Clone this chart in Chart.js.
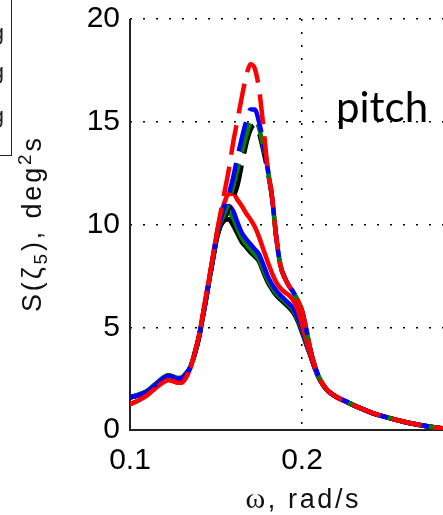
<!DOCTYPE html>
<html><head><meta charset="utf-8">
<script src="https://cdn.jsdelivr.net/npm/chart.js@4"></script>
<style>html,body{margin:0;padding:0;background:#fff;overflow:hidden}#wrap{width:443px;height:515px;position:relative}</style>
</head><body><div id="wrap"><canvas id="c" width="443" height="515"></canvas></div>
<script>
// frequency, rad/s
const omega = [0.100,0.105,0.110,0.115,0.120,0.1225,0.125,0.1275,0.130,0.1325,0.135,0.1375,0.140,0.1425,0.145,0.1475,
  0.150,0.1525,0.155,0.1575,0.160,0.1625,0.165,0.1675,0.170,0.1725,0.175,0.1775,0.180,0.1825,0.185,0.1875,0.190,0.1925,0.195,0.1975,0.200,0.2025,
  0.205,0.2075,0.210,0.2125,0.215,0.220,0.225,0.230,0.235,0.240,0.250,0.260,0.270,0.280,0.290];

// solid curves
const solidBlack = [1.58,1.70,1.88,2.22,2.57,2.64,2.58,2.50,2.52,2.72,3.02,3.65,4.45,5.55,6.75,7.95,
  9.1,9.9,10.2,10.25,9.95,9.55,9.15,8.9,8.65,8.45,8.2,7.7,7.2,6.85,6.55,6.35,6.15,5.95,5.7,5.3,4.75,4.15,
  3.6,3.0,2.5,2.15,1.9,1.6,1.4,1.2,1.02,0.85,0.6,0.38,0.22,0.1,0.05];
const solidGreen = [1.60,1.72,1.90,2.25,2.60,2.67,2.60,2.53,2.55,2.75,3.05,3.70,4.50,5.60,6.80,8.00,
  9.2,10.05,10.45,10.55,10.3,9.8,9.35,9.05,8.8,8.55,8.3,7.8,7.3,6.95,6.65,6.45,6.25,6.05,5.8,5.4,4.85,4.2,
  3.6,3.0,2.5,2.15,1.9,1.6,1.4,1.2,1.02,0.85,0.6,0.38,0.22,0.1,0.05];
const solidBlue = [1.60,1.70,1.88,2.22,2.56,2.63,2.58,2.50,2.52,2.72,3.05,3.70,4.50,5.60,6.80,8.00,
  9.25,10.2,10.75,10.9,10.65,10.1,9.6,9.3,9.05,8.8,8.55,8.05,7.5,7.1,6.8,6.55,6.35,6.15,5.9,5.5,4.95,4.25,
  3.6,3.0,2.5,2.15,1.9,1.6,1.4,1.2,1.02,0.85,0.6,0.38,0.22,0.1,0.05];
const solidRed = [1.25,1.45,1.70,2.05,2.35,2.43,2.38,2.30,2.30,2.55,3.00,3.70,4.55,5.70,6.90,8.10,
  9.35,10.4,11.1,11.5,11.5,11.2,10.9,10.55,10.25,9.9,9.4,8.8,8.2,7.65,7.2,6.9,6.7,6.55,6.3,5.85,5.15,4.35,
  3.6,3.0,2.5,2.15,1.9,1.6,1.4,1.2,1.02,0.85,0.6,0.38,0.22,0.1,0.05];

// dashed curves
const dashBlack = [1.58,1.70,1.88,2.22,2.57,2.64,2.58,2.50,2.52,2.72,3.02,3.65,4.45,5.55,6.75,7.95,
  9.1,9.9,10.3,10.8,11.3,11.9,12.9,13.9,14.6,14.85,14.45,13.6,12.6,11.35,9.4,8.0,7.4,7.0,6.7,6.3,5.8,4.9,
  3.85,3.1,2.55,2.18,1.92,1.62,1.42,1.22,1.03,0.86,0.6,0.39,0.22,0.1,0.05];
const dashGreen = [1.60,1.72,1.90,2.25,2.60,2.67,2.60,2.53,2.55,2.75,3.05,3.70,4.50,5.60,6.80,8.00,
  9.2,10.05,10.55,11.1,11.9,12.7,13.5,14.3,14.95,15.1,14.7,13.8,12.7,11.4,9.4,8.0,7.4,7.0,6.7,6.3,5.8,4.9,
  3.85,3.1,2.55,2.18,1.92,1.62,1.42,1.22,1.03,0.86,0.6,0.39,0.22,0.1,0.05];
const dashBlue = [1.60,1.70,1.88,2.22,2.56,2.63,2.58,2.50,2.52,2.72,3.05,3.70,4.50,5.60,6.80,8.00,
  9.25,10.2,10.9,11.5,12.3,13.3,14.2,15.0,15.6,15.6,15.0,14.0,12.75,11.4,9.4,8.0,7.4,7.0,6.7,6.3,5.8,4.9,
  3.85,3.1,2.55,2.18,1.92,1.62,1.42,1.22,1.03,0.86,0.6,0.39,0.22,0.1,0.05];
const dashRed = [1.25,1.45,1.70,2.05,2.35,2.43,2.38,2.30,2.30,2.55,3.00,3.70,4.55,5.70,6.90,8.10,
  9.35,10.5,11.6,12.7,14.0,15.1,16.2,17.2,17.8,17.6,16.6,14.8,12.75,11.4,9.4,8.0,7.4,7.0,6.7,6.3,5.8,4.9,
  3.85,3.1,2.55,2.18,1.92,1.62,1.42,1.22,1.03,0.86,0.6,0.39,0.22,0.1,0.05];

const yTicks = [0, 5, 10, 15, 20];
const xTicks = [0.1, 0.2];
const yTitle = [{t:'S(ζ', s:27}, {t:'5', s:19, dy:6}, {t:'), deg', s:27}, {t:'2', s:19, dy:-10}, {t:'s', s:27}];
const xTitle = [{t:'ω', s:30, f:'"Liberation Serif", "Times New Roman", serif'}, {t:', rad/s', s:27}];
const panelLabel = 'pitch';
const legendFragment = ['g', 'g', 'g'];

const SANS = '"Liberation Sans", Arial, Helvetica, sans-serif';

function pts(arr){ return arr.map((v,i)=>({x: omega[i], y: v})); }
function ds(label, arr, color, dashed, order){
  return {label, data: pts(arr), borderColor: color, backgroundColor: color, borderWidth: 4.5,
    borderDash: dashed ? [30, 12] : [], borderCapStyle: 'butt', borderJoinStyle: 'round',
    pointRadius: 0, cubicInterpolationMode: 'monotone', fill: false, order};
}

function runWidth(ctx, runs, sp){
  let w = 0, n = 0;
  for (const r of runs){ ctx.font = r.s + 'px ' + (r.f || SANS); for (const ch of r.t){ w += ctx.measureText(ch).width; n++; } }
  return w + sp * (n - 1);
}
function drawRuns(ctx, runs, x, y, sp){
  let cx = x;
  for (const r of runs){
    ctx.font = r.s + 'px ' + (r.f || SANS);
    for (const ch of r.t){ ctx.fillText(ch, cx, y + (r.dy || 0)); cx += ctx.measureText(ch).width + sp; }
  }
}
function countChars(runs){ return runs.reduce((a,r)=>a + [...r.t].length, 0); }

const axesPlugin = {
  id: 'axesLines',
  beforeDatasetsDraw(chart){
    const {ctx, chartArea: a} = chart;
    ctx.save();
    ctx.strokeStyle = '#222';
    ctx.lineWidth = 2;
    ctx.setLineDash([]);
    ctx.beginPath();
    ctx.moveTo(a.left, a.top);
    ctx.lineTo(a.left, a.bottom);
    ctx.lineTo(a.right, a.bottom);
    ctx.stroke();
    ctx.restore();
  }
};

const textPlugin = {
  id: 'texts',
  afterDraw(chart){
    const ctx = chart.ctx;
    ctx.save();
    ctx.fillStyle = '#111';
    ctx.textAlign = 'left';
    ctx.textBaseline = 'alphabetic';
    // y title (rotated)
    ctx.save();
    ctx.translate(41, 225);
    ctx.rotate(-Math.PI/2);
    let nat = runWidth(ctx, yTitle, 0);
    let sp = Math.max(0, (174 - nat) / (countChars(yTitle) - 1));
    drawRuns(ctx, yTitle, -174/2, 0, sp);
    ctx.restore();
    // x title
    nat = runWidth(ctx, xTitle, 0);
    sp = Math.max(0, (113 - nat) / (countChars(xTitle) - 1));
    drawRuns(ctx, xTitle, 302 - 113/2, 508, sp);
    // panel label
    ctx.fillStyle = '#000';
    ctx.font = '42px Lato, "Open Sans", sans-serif';
    ctx.fillText(panelLabel, 336, 122);
    // cropped legend box from neighbouring panel
    ctx.strokeStyle = '#222';
    ctx.lineWidth = 1;
    ctx.strokeRect(-20.5, -20.5, 32, 176);
    ctx.fillStyle = '#222';
    ctx.textAlign = 'right';
    ctx.font = '22px ' + SANS;
    [40, 79, 123].forEach((y,i)=>ctx.fillText(legendFragment[i], 4, y));
    ctx.restore();
  }
};

new Chart(document.getElementById('c'), {
  type: 'line',
  data: { datasets: [
    ds('solid black', solidBlack, '#000000', false, 7),
    ds('solid green', solidGreen, '#008000', false, 6),
    ds('solid blue', solidBlue, '#0000ff', false, 5),
    ds('solid red', solidRed, '#ff0000', false, 4),
    ds('dashed black', dashBlack, '#000000', true, 3),
    ds('dashed green', dashGreen, '#008000', true, 2),
    ds('dashed blue', dashBlue, '#0000ff', true, 1),
    ds('dashed red', dashRed, '#ff0000', true, 0)
  ]},
  options: {
    responsive: false, animation: false, devicePixelRatio: 1,
    layout: { padding: { top: 19, left: 0, right: 0, bottom: 0 } },
    plugins: { legend: { display: false }, tooltip: { enabled: false } },
    scales: {
      x: {
        type: 'linear', min: 0.1, max: 0.28198,
        afterFit(s){ s.height = 85; },
        afterBuildTicks(s){ s.ticks = xTicks.map(v=>({value: v})); },
        ticks: { includeBounds: false, padding: 13, color: '#000', font: { family: SANS, size: 30 },
          callback: v => v.toFixed(1) },
        grid: { color: '#000', lineWidth: 1.5, drawTicks: false },
        border: { display: false, dash: [2, 11] }
      },
      y: {
        min: 0, max: 20,
        afterFit(s){ s.width = 130; },
        afterBuildTicks(s){ s.ticks = yTicks.map(v=>({value: v})); },
        ticks: { padding: 10, color: '#000', font: { family: SANS, size: 30, lineHeight: 0.5 } },
        grid: { color: '#000', lineWidth: 1.5, drawTicks: false },
        border: { display: false, dash: [2, 11] }
      }
    }
  },
  plugins: [axesPlugin, textPlugin]
});
</script>
</body></html>
